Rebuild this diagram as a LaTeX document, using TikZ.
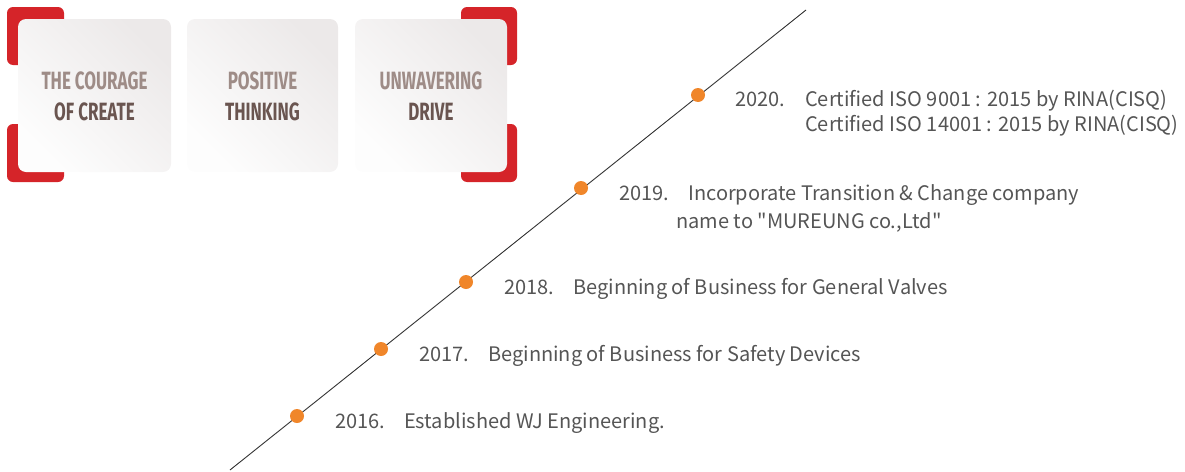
\documentclass[tikz,border=0pt]{standalone}
\usepackage{fontspec}
\newfontfamily\txtfont{Noto Sans CJK KR}
\newfontfamily\condfont[FakeStretch=0.68]{Fira Sans}
\definecolor{redc}{HTML}{D52429}
\definecolor{dotc}{HTML}{F0862A}
\definecolor{txtc}{HTML}{555555}
\definecolor{lightw}{HTML}{9E8C87}
\definecolor{darkw}{HTML}{6A5550}
\definecolor{boxtop}{HTML}{ECE9E9}
\definecolor{boxbot}{HTML}{FDFDFD}
\tikzset{
  redcorner/.style={fill=redc, rounded corners=6pt, draw=none},
  card/.style={rounded corners=8pt, draw=none, top color=boxtop, bottom color=boxbot, shading angle=-45},
  cardtext/.style={font=\condfont\bfseries\fontsize{25}{31}\selectfont, align=center},
  dot/.style={circle, fill=dotc, inner sep=0pt, minimum size=14pt},
  yr/.style={anchor=base west, text=txtc, font=\txtfont\fontsize{20}{24}\selectfont, inner sep=0pt},
}
\begin{document}
\begin{tikzpicture}[x=1pt,y=-1pt]
\useasboundingbox (0,0) rectangle (1185,471);
% red corners
\fill[redcorner] (7,7) rectangle (64,65);
\fill[redcorner] (7,124) rectangle (64,182);
\fill[redcorner] (461,7) rectangle (517,65);
\fill[redcorner] (461,124) rectangle (517,182);
% cards
\shade[card] (18,19) rectangle (171,172);
\shade[card] (187,19) rectangle (338,172);
\shade[card] (355,19) rectangle (507,172);
\node[cardtext] (c1) at (94.5,96.5) {\textcolor{lightw}{THE COURAGE}\\\textcolor{darkw}{OF CREATE}};
\node[cardtext] (c2) at (262.5,96.5) {\textcolor{lightw}{POSITIVE}\\\textcolor{darkw}{THINKING}};
\node[cardtext] (c3) at (431,96.5) {\textcolor{lightw}{UNWAVERING}\\\textcolor{darkw}{DRIVE}};
% timeline
\coordinate (s) at (230,470);
\coordinate (e) at (806,10);
\draw[line width=0.9pt, color=black!80] (s) -- (e);
\node[dot] (d20) at (698,95) {};
\node[dot] (d19) at (581,188) {};
\node[dot] (d18) at (466,282) {};
\node[dot] (d17) at (381,349) {};
\node[dot] (d16) at (297,416) {};
% texts
\node[yr] (y20) at (735,106) {2020.};
\node[yr] (t20a) at (805,106) {Certified ISO 9001 : 2015 by RINA(CISQ)};
\node[yr] (t20b) at (805,131) {Certified ISO 14001 : 2015 by RINA(CISQ)};
\node[yr] (y19) at (619,200) {2019.};
\node[yr] (t19a) at (688,200) {Incorporate Transition \& Change company};
\node[yr] (t19b) at (676,228) {name to "MUREUNG co.,Ltd"};
\node[yr] (y18) at (504,294) {2018.};
\node[yr] (t18) at (573,294) {Beginning of Business for General Valves};
\node[yr] (y17) at (419,361) {2017.};
\node[yr] (t17) at (488,361) {Beginning of Business for Safety Devices};
\node[yr] (y16) at (335,428) {2016.};
\node[yr] (t16) at (404,428) {Established WJ Engineering.};
\end{tikzpicture}
\end{document}
